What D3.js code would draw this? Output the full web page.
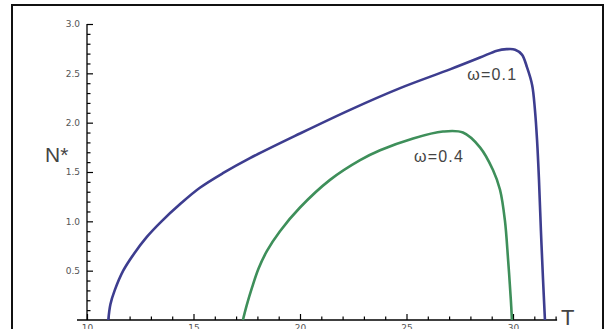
<!DOCTYPE html>
<html>
<head>
<meta charset="utf-8">
<script src="https://cdn.jsdelivr.net/npm/d3@7"></script>
<style>
  body { margin: 0; background: #fff; }
  svg { display: block; }
  .tick text { fill: #555; font-family: "DejaVu Sans", sans-serif; font-size: 9px; }
</style>
</head>
<body>
<svg id="chart" width="605" height="329"></svg>
<script>
// courbes : T (abscisse), N* (ordonnée)
const seriesNames = ["ω=0.1", "ω=0.4"];
const seriesColors = ["#3d3d8f", "#3e8f5a"];

const tBlue = [11.0, 11.1, 11.3, 11.7, 12.2, 12.8, 13.5, 14.4, 15.3, 16.4, 17.65, 20.0, 22.35, 24.7, 27.04, 28.45, 29.25, 29.7, 30.1, 30.42, 30.66, 30.9, 31.03, 31.13, 31.22, 31.31, 31.41, 31.5];
const nBlue = [0, 0.16, 0.3, 0.5, 0.67, 0.84, 1.0, 1.18, 1.34, 1.49, 1.64, 1.89, 2.13, 2.35, 2.54, 2.66, 2.73, 2.745, 2.74, 2.69, 2.56, 2.38, 2.13, 1.82, 1.42, 0.91, 0.41, 0];

const tGreen = [17.32, 17.5, 17.75, 18.05, 18.45, 19.06, 20.0, 21.41, 22.82, 23.76, 25.31, 26.71, 27.65, 28.45, 29.06, 29.39, 29.62, 29.77, 29.9, 29.95];
const nGreen = [0, 0.15, 0.33, 0.52, 0.7, 0.9, 1.14, 1.42, 1.62, 1.72, 1.84, 1.91, 1.9, 1.75, 1.52, 1.32, 1.01, 0.61, 0.2, 0];

const xMajor = [10, 15, 20, 25, 30];
const yMajor = [0.5, 1.0, 1.5, 2.0, 2.5, 3.0];

const svg = d3.select("#chart");

// cadre
svg.append("rect")
    .attr("x", 12).attr("y", 5)
    .attr("width", 591).attr("height", 340)
    .attr("fill", "none")
    .attr("stroke", "#111")
    .attr("stroke-width", 2);

const x = d3.scaleLinear().domain([10, 30]).range([87, 513]);
const y = d3.scaleLinear().domain([0, 3]).range([320, 24]);

// ticks mineurs
const xMinor = d3.range(10, 33, 1).filter(v => !xMajor.includes(v));
const yMinor = d3.range(1, 30).map(v => v / 10).filter(v => !yMajor.some(m => Math.abs(m - v) < 1e-9));

const gx = svg.append("g").attr("transform", `translate(0,${y(0)})`);
gx.append("g")
    .call(d3.axisBottom(x).tickValues(xMinor).tickSize(-3.5).tickFormat(""))
    .call(g => g.select(".domain").remove());
gx.append("g")
    .call(d3.axisBottom(x).tickValues(xMajor).tickSize(-6).tickPadding(5).tickFormat(d3.format("d")))
    .call(g => g.select(".domain").remove());
gx.append("line")
    .attr("x1", x(9.53)).attr("x2", x(32.07))
    .attr("stroke", "#000").attr("stroke-width", 1.3);

const gy = svg.append("g").attr("transform", `translate(${x(10)},0)`);
gy.append("g")
    .call(d3.axisLeft(y).tickValues(yMinor).tickSize(-3.5).tickFormat(""))
    .call(g => g.select(".domain").remove());
gy.append("g")
    .call(d3.axisLeft(y).tickValues(yMajor).tickSize(-6).tickPadding(7).tickFormat(d3.format(".1f")))
    .call(g => g.select(".domain").remove());
gy.append("line")
    .attr("y1", y(3)).attr("y2", y(0))
    .attr("stroke", "#000").attr("stroke-width", 1.3);

svg.selectAll(".tick line").attr("stroke", "#000").attr("stroke-width", 1.2);

// courbes
const line = d3.line()
    .x(d => x(d[0]))
    .y(d => y(d[1]))
    .curve(d3.curveCatmullRom.alpha(0.5));

const curves = [d3.zip(tBlue, nBlue), d3.zip(tGreen, nGreen)];

svg.selectAll(".curve")
    .data(curves)
    .join("path")
    .attr("class", "curve")
    .attr("d", line)
    .attr("fill", "none")
    .attr("stroke", (d, i) => seriesColors[i])
    .attr("stroke-width", 2.6);

// étiquettes des courbes
const labelPos = [[27.85, 2.43], [25.35, 1.60]];
svg.selectAll(".curve-label")
    .data(seriesNames)
    .join("text")
    .attr("class", "curve-label")
    .attr("x", (d, i) => x(labelPos[i][0]))
    .attr("y", (d, i) => y(labelPos[i][1]))
    .attr("font-family", "Arial, 'Liberation Sans', sans-serif")
    .attr("font-size", 16)
    .attr("textLength", 49)
    .attr("fill", "#444")
    .text(d => d);

// titres des axes
svg.append("text")
    .attr("x", 45).attr("y", 162)
    .attr("font-family", "Arial, 'Liberation Sans', sans-serif")
    .attr("font-size", 21)
    .attr("fill", "#444")
    .text("N*");

svg.append("text")
    .attr("x", 561).attr("y", 325)
    .attr("font-family", "Arial, 'Liberation Sans', sans-serif")
    .attr("font-size", 22)
    .attr("fill", "#444")
    .text("T");
</script>
</body>
</html>
